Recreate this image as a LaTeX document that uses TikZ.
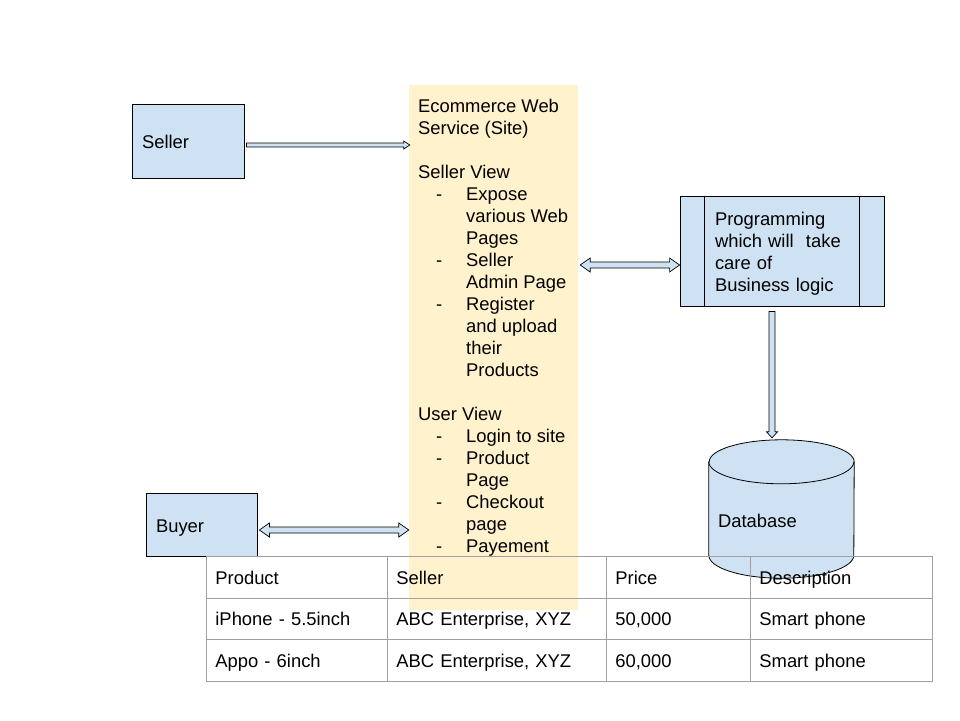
\documentclass[tikz,border=0pt]{standalone}
\usepackage{fontspec}
\setmainfont{Liberation Sans}
\usetikzlibrary{calc,matrix,positioning}

\definecolor{boxblue}{HTML}{CFE2F3}
\definecolor{siteyellow}{HTML}{FFF2CC}
\definecolor{tablegray}{HTML}{A0A0A0}

% list marks inside the site column
\newcommand{\itm}{\makebox[48pt][l]{\hspace*{18pt}-}}
\newcommand{\ind}{\hspace*{48pt}}

% hollow block arrows between two coordinates
\newcommand{\rightblock}[2]{\draw[blockarrow] let \p1=(#1), \p2=(#2) in
 (\x1,\y1+2pt) -- (\x2-6pt,\y1+2pt) -- (\x2-6pt,\y1+4pt) -- (\x2,\y1) -- (\x2-6pt,\y1-4pt) -- (\x2-6pt,\y1-2pt) -- (\x1,\y1-2pt) -- cycle;}
\newcommand{\bothblock}[2]{\draw[blockarrow] let \p1=(#1), \p2=(#2) in
 (\x1,\y1) -- (\x1+10pt,\y1+7pt) -- (\x1+10pt,\y1+3pt) -- (\x2-10pt,\y1+3pt) -- (\x2-10pt,\y1+7pt) -- (\x2,\y1)
 -- (\x2-10pt,\y1-7pt) -- (\x2-10pt,\y1-3pt) -- (\x1+10pt,\y1-3pt) -- (\x1+10pt,\y1-7pt) -- cycle;}
\newcommand{\downblock}[2]{\draw[blockarrow] let \p1=(#1), \p2=(#2) in
 (\x1-3pt,\y1) -- (\x1-3pt,\y2+6pt) -- (\x1-5.5pt,\y2+6pt) -- (\x1,\y2) -- (\x1+5.5pt,\y2+6pt) -- (\x1+3pt,\y2+6pt) -- (\x1+3pt,\y1) -- cycle;}

\begin{document}
\begin{tikzpicture}[x=1pt,y=-1pt,font=\fontsize{18.4pt}{22pt}\selectfont,
 blockbox/.style={draw=black,line width=0.8pt,fill=boxblue,inner xsep=10pt,text height=17.5pt,text depth=2pt,align=left},
 blockarrow/.style={draw=black,line width=0.7pt,fill=boxblue},
 boxline/.style={draw=black,line width=0.8pt},
 cell/.style={draw=tablegray,line width=0.8pt,anchor=center,outer sep=0pt,inner xsep=9pt,inner ysep=0pt,minimum height=41.5pt,text height=16pt,text depth=2pt,align=left}]
\useasboundingbox (0,0) rectangle (960,720);

% site column
\node[fill=siteyellow,minimum width=169pt,minimum height=525pt,inner sep=0] (site) at (493.5,347.5) {};
\node[anchor=north west,inner sep=0,align=left] (sitetext) at (418,99) {Ecommerce Web\\
Service (Site)\\[22pt]
Seller View\\
\itm Expose\\
\ind various Web\\
\ind Pages\\
\itm Seller\\
\ind Admin Page\\
\itm Register\\
\ind and upload\\
\ind their\\
\ind Products\\[22pt]
User View\\
\itm Login to site\\
\itm Product\\
\ind Page\\
\itm Checkout\\
\ind page\\
\itm Payement};

% actors and logic
\node[blockbox,minimum width=112pt,minimum height=74pt,text width=92pt] (seller) at (188,141) {Seller};
\node[blockbox,minimum width=111pt,minimum height=63pt,text width=91pt] (buyer) at (201.5,524.5) {Buyer};
\node[blockbox,minimum width=204pt,minimum height=110pt,inner xsep=35pt,text width=134pt,text height=13pt,text depth=63.8pt] (logic) at (782,251) {Programming\\
which will\ \ take\\
care of\\
Business logic};
\draw[boxline] ($(logic.north west)+(25,0)$) -- ($(logic.south west)+(25,0)$);
\draw[boxline] ($(logic.north east)+(-25,0)$) -- ($(logic.south east)+(-25,0)$);

% database
\node[minimum width=145pt,minimum height=138pt,inner sep=0] (db) at (781.5,509) {};
\filldraw[blockarrow,line width=0.8pt] ($(db.north west)+(0,22)$) -- ($(db.south west)+(0,-23)$)
 arc[start angle=180,end angle=0,x radius=72.5,y radius=23] -- ($(db.north east)+(0,22)$)
 arc[start angle=0,end angle=-180,x radius=72.5,y radius=22] -- cycle;
\draw[boxline] ($(db.north west)+(0,22)$) arc[start angle=180,end angle=0,x radius=72.5,y radius=22];
\node[anchor=west,inner sep=0] (dblabel) at ($(db.west)+(9,12)$) {Database};

% arrows
\coordinate (sellerout) at ($(seller.east)+(2,4)$);
\coordinate (sitein) at ($(site.west |- sellerout)+(1,0)$);
\rightblock{sellerout}{sitein}
\coordinate (siteout) at ($(site.east |- logic.west)+(2,14)$);
\coordinate (logicin) at ($(logic.west)+(0,14)$);
\bothblock{siteout}{logicin}
\coordinate (buyerout) at ($(buyer.east)+(2,5.5)$);
\coordinate (buyerin) at (site.west |- buyerout);
\bothblock{buyerout}{buyerin}
\coordinate (logicout) at ($(logic.south)+(-10,5)$);
\coordinate (dbin) at ($(logicout |- db.north)+(0,-2)$);
\downblock{logicout}{dbin}

% product table
\matrix (products) [matrix of nodes,anchor=north west,inner sep=0,outer sep=0,column sep=-0.8pt,row sep=-0.8pt,nodes={cell},
 column 1/.style={nodes={text width=163pt}},column 2/.style={nodes={text width=201pt}},
 column 3/.style={nodes={text width=126pt}},column 4/.style={nodes={text width=164pt}}] at (206,556) {
Product & Seller & Price & Description\\
iPhone - 5.5inch & ABC Enterprise, XYZ & 50,000 & Smart phone\\
Appo - 6inch & ABC Enterprise, XYZ & 60,000 & Smart phone\\
};
\end{tikzpicture}
\end{document}
